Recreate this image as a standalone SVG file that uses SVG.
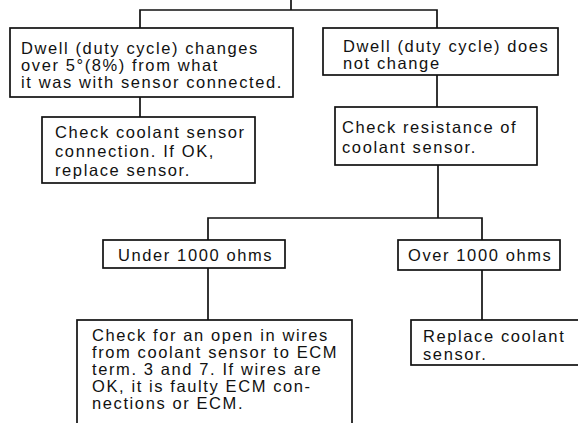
<svg xmlns="http://www.w3.org/2000/svg" width="578" height="423" viewBox="0 0 578 423">
<style>
rect{fill:#fff;stroke:#111;stroke-width:1.7}
.c line,.c polyline{fill:none;stroke:#111;stroke-width:1.7}
text{font-family:"Liberation Sans",Arial,sans-serif;font-size:16.5px;letter-spacing:1.6px;fill:#111}
</style>
<rect x="0" y="0" width="578" height="423" style="stroke:none"/>
<g class="c" id="connectors">
<line x1="291" y1="0" x2="291" y2="10"/>
<polyline points="140,28 140,10 437,10 437,28"/>
<line x1="140" y1="97" x2="140" y2="117"/>
<line x1="437" y1="75" x2="437" y2="107"/>
<line x1="438" y1="165" x2="438" y2="218"/>
<polyline points="208,240 208,218 482,218 482,240"/>
<line x1="208" y1="268" x2="208" y2="320"/>
<line x1="482" y1="270" x2="482" y2="320"/>
</g>
<g id="n1">
<rect x="10" y="28" width="283" height="69"/>
<text x="21" y="54">Dwell (duty cycle) changes</text>
<text x="21" y="71">over 5°(8%) from what</text>
<text x="21" y="88">it was with sensor connected.</text>
</g>
<g id="n2">
<rect x="323" y="28" width="235" height="47"/>
<text x="343" y="52">Dwell (duty cycle) does</text>
<text x="343" y="69">not change</text>
</g>
<g id="n3">
<rect x="42" y="117" width="213" height="66"/>
<text x="55" y="138">Check coolant sensor</text>
<text x="55" y="157">connection. If OK,</text>
<text x="55" y="176">replace sensor.</text>
</g>
<g id="n4">
<rect x="335" y="107" width="202" height="58"/>
<text x="342" y="133">Check resistance of</text>
<text x="342" y="153">coolant sensor.</text>
</g>
<g id="n5">
<rect x="103" y="240" width="182" height="28"/>
<text x="118" y="261">Under 1000 ohms</text>
</g>
<g id="n6">
<rect x="398" y="240" width="162" height="30"/>
<text x="408" y="261">Over 1000 ohms</text>
</g>
<g id="n7">
<rect x="77" y="320" width="275" height="110"/>
<text x="92" y="341">Check for an open in wires</text>
<text x="92" y="358">from coolant sensor to ECM</text>
<text x="92" y="375">term. 3 and 7. If wires are</text>
<text x="92" y="392">OK, it is faulty ECM con-</text>
<text x="92" y="409">nections or ECM.</text>
</g>
<g id="n8">
<rect x="411" y="320" width="175" height="45"/>
<text x="423" y="342">Replace coolant</text>
<text x="423" y="360">sensor.</text>
</g>
</svg>
